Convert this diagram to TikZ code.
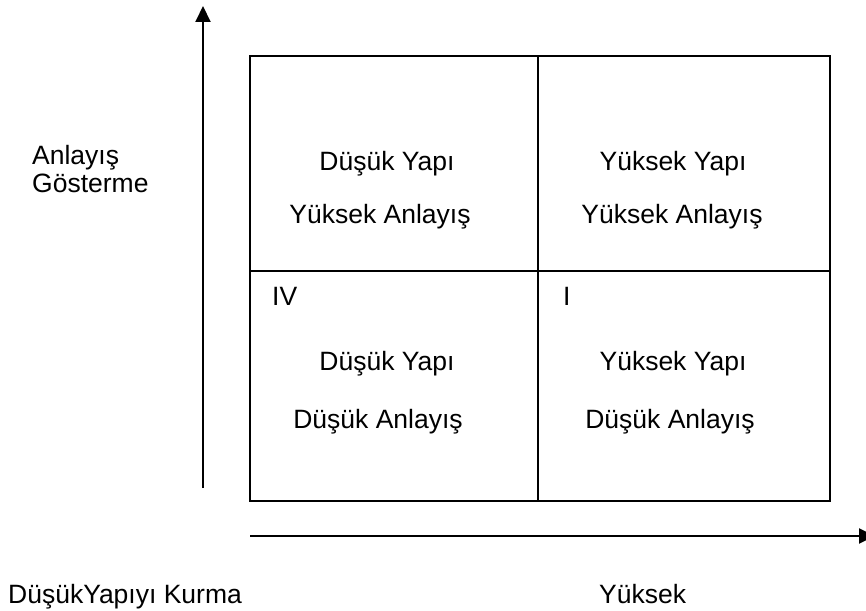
\documentclass[tikz,border=0pt]{standalone}
\usepackage{fontspec}
\setmainfont{Liberation Sans}
\usetikzlibrary{arrows.meta}
\begin{document}
\begin{tikzpicture}[x=1pt,y=-1pt,
  lbl/.style={anchor=base,inner sep=0pt,font=\fontsize{26.5}{30}\selectfont},
  lbll/.style={lbl,anchor=base west},
  grid/.style={line width=2pt},
  axis/.style={line width=2pt,-{Triangle[length=16pt,width=15pt]}}]
\useasboundingbox (0,0) rectangle (866,610);
\clip (0,0) rectangle (866,610);

% quadrant grid
\draw[grid] (250,56) rectangle (830,501);
\draw[grid] (538,56) -- (538,501);
\draw[grid] (250,271) -- (830,271);

% axes
\coordinate (vbot) at (203,488);
\coordinate (vtop) at (203,6);
\draw[axis] (vbot) -- (vtop);
\coordinate (hleft) at (250,536);
\coordinate (hright) at (875,536);
\draw[axis] (hleft) -- (hright);

% axis labels
\node[lbll] (ya1) at (32,164) {Anlayış};
\node[lbll] (ya2) at (32,192) {Gösterme};
\node[lbll] (xa1) at (8,603) {DüşükYapıyı Kurma};
\node[lbll] (xa2) at (599,603) {Yüksek};

% quadrant texts
\node[lbl] (q2a) at (387,170) {Düşük Yapı};
\node[lbl] (q2b) at (380,223) {Yüksek Anlayış};
\node[lbl] (q1a) at (673,170) {Yüksek Yapı};
\node[lbl] (q1b) at (672,223) {Yüksek Anlayış};
\node[lbll] (n4) at (272,305) {IV};
\node[lbll] (n1) at (563,305) {I};
\node[lbl] (q4a) at (387,370) {Düşük Yapı};
\node[lbl] (q4b) at (378,428) {Düşük Anlayış};
\node[lbl] (q3a) at (673,370) {Yüksek Yapı};
\node[lbl] (q3b) at (670,428) {Düşük Anlayış};
\end{tikzpicture}
\end{document}
